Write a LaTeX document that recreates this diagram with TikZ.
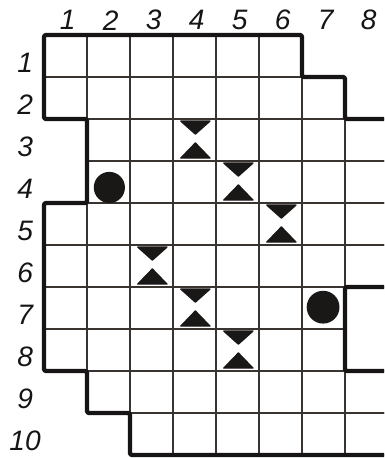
\documentclass[tikz,border=0pt]{standalone}
\usepackage{fontspec}
\setmainfont{Liberation Sans}
\usepackage{tikz}
\usetikzlibrary{calc}
\definecolor{gridink}{RGB}{58,52,48}
\definecolor{rimink}{RGB}{22,20,20}
\definecolor{pieceink}{RGB}{26,23,23}

\tikzset{
  gridcell/.style={draw=gridink, line width=0.9pt},
  rim/.style={draw=rimink, line width=3.1pt, line join=round, rounded corners=1.5pt},
  sandtri/.style={fill=pieceink, draw=pieceink, line width=0.9pt, line join=round},
  numlab/.style={font=\fontsize{20}{24}\selectfont\itshape, text=rimink, inner sep=0pt},
}

\begin{document}
\begin{tikzpicture}[x=1.075cm, y=-1.05cm]
\useasboundingbox (-1.0233,-0.8333) rectangle (7.907,10.071);
\clip (-1.0233,-0.8333) rectangle (7.907,10.071);

% cells, row by row
\foreach \r/\a/\b in {1/1/6, 2/1/7, 3/2/9, 4/2/9, 5/1/9, 6/1/9, 7/1/7, 8/1/7, 9/2/9, 10/3/9}
  \foreach \c in {\a,...,\b}
    \draw[gridcell] (\c-1,\r-1) rectangle (\c,\r);

% outline of the board
\draw[rim] (9,2) -- (7,2) -- (7,1) -- (6,1) -- (6,0) -- (0,0) -- (0,2) -- (1,2) -- (1,4) -- (0,4)
  -- (0,8) -- (1,8) -- (1,9) -- (2,9) -- (2,10) -- (9,10);
\draw[rim] (9,6) -- (7,6) -- (7,8) -- (9,8);

% hourglasses
\foreach \c/\r in {4/3, 5/4, 6/5, 3/6, 4/7, 5/8} {
  \fill[sandtri] (\c-0.82,\r-0.95) -- (\c-0.14,\r-0.95) -- (\c-0.48,\r-0.64) -- cycle;
  \fill[sandtri] (\c-0.82,\r-0.07) -- (\c-0.14,\r-0.07) -- (\c-0.48,\r-0.43) -- cycle;
}

% stones
\fill[pieceink] (1.52,3.63) circle [radius=0.39cm];
\fill[pieceink] (6.49,6.48) circle [radius=0.41cm];

% numbers
\foreach \c in {1,...,8}
  \node[numlab] (col\c) at (\c-0.45,-0.35) {\c};
\foreach \r in {1,...,10}
  \node[numlab] (row\r) at (-0.44,\r-0.33) {\r};
\end{tikzpicture}
\end{document}
